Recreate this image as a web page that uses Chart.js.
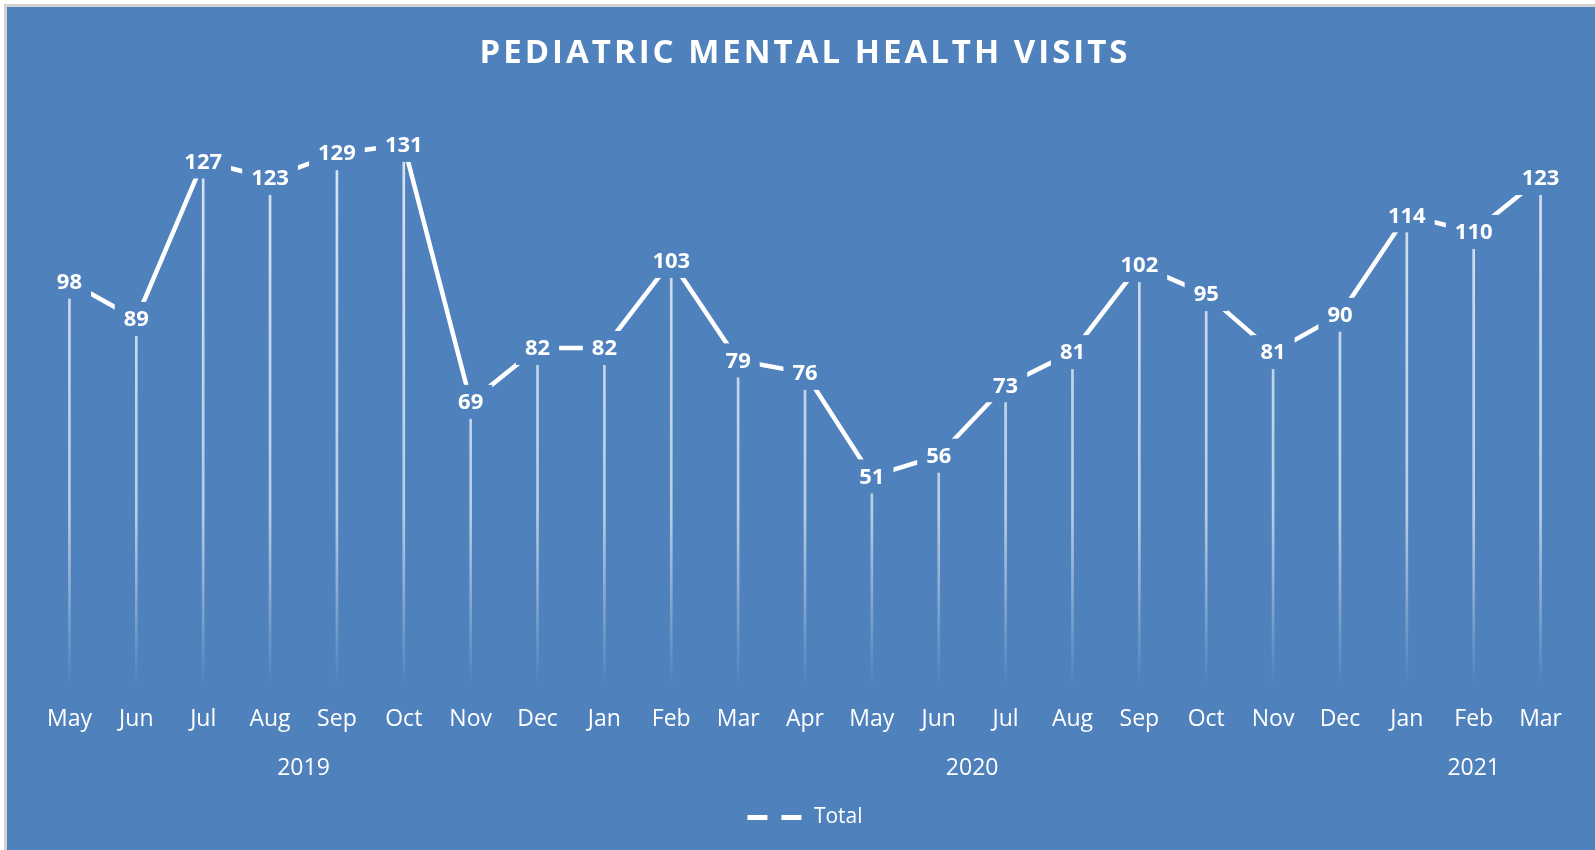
<!DOCTYPE html>
<html>
<head>
<meta charset="utf-8">
<title>Pediatric Mental Health Visits</title>
<script src="https://cdn.jsdelivr.net/npm/chart.js@4.4.1/dist/chart.umd.min.js"></script>
<style>
  html, body { margin: 0; padding: 0; background: #fff; }
  #visitsChart { display: block; }
</style>
</head>
<body>
<canvas id="visitsChart" width="1595" height="850"></canvas>
<script>
const months = ['May', 'Jun', 'Jul', 'Aug', 'Sep', 'Oct', 'Nov', 'Dec', 'Jan', 'Feb', 'Mar', 'Apr',
    'May', 'Jun', 'Jul', 'Aug', 'Sep', 'Oct', 'Nov', 'Dec', 'Jan', 'Feb', 'Mar'];
const visits = [98, 89, 127, 123, 129, 131, 69, 82, 82, 103, 79, 76,
    51, 56, 73, 81, 102, 95, 81, 90, 114, 110, 123];
const years = ['2019', '2020', '2021'];
const yearFirstMonth = [0, 8, 20];
const yearLastMonth = [7, 19, 22];

const chartBlue = '#4F81BD';
const yearCenters = years.map((y, i) => (yearFirstMonth[i] + yearLastMonth[i]) / 2);

Chart.defaults.font.family = '"Open Sans", sans-serif';
Chart.defaults.color = '#ffffff';

// background + the thin grey frame at top/left
const frame = {
    id: 'frame',
    beforeDraw(chart) {
        const ctx = chart.ctx;
        ctx.save();
        ctx.fillStyle = '#ffffff';
        ctx.fillRect(0, 0, chart.width, chart.height);
        ctx.fillStyle = '#d2d2d2';
        ctx.fillRect(4, 4, chart.width, chart.height);
        ctx.fillStyle = chartBlue;
        ctx.fillRect(7, 7, chart.width, chart.height);
        ctx.restore();
    }
};

// value labels sit centred on the points, masking the line behind them
const centerLabels = {
    id: 'centerLabels',
    afterDatasetsDraw(chart) {
        const ctx = chart.ctx;
        const meta = chart.getDatasetMeta(1);
        const data = chart.data.datasets[1].data;
        ctx.save();
        ctx.font = 'bold 22px "Open Sans"';
        ctx.textAlign = 'center';
        ctx.textBaseline = 'middle';
        meta.data.forEach((pt, i) => {
            const txt = String(data[i]);
            const w = ctx.measureText(txt).width;
            ctx.fillStyle = chartBlue;
            ctx.fillRect(pt.x - w / 2 - 9, pt.y - 17, w + 18, 34);
            ctx.fillStyle = '#ffffff';
            ctx.fillText(txt, pt.x, pt.y + 1);
        });
        ctx.restore();
    }
};

function dropLineColor(context) {
    const area = context.chart.chartArea;
    if (!area) return 'rgba(255,255,255,0.6)';
    const g = context.chart.ctx.createLinearGradient(0, area.top, 0, area.bottom);
    g.addColorStop(0, 'rgba(255,255,255,0.8)');
    g.addColorStop(0.7, 'rgba(255,255,255,0.6)');
    g.addColorStop(1, 'rgba(255,255,255,0)');
    return g;
}

const ctx = document.getElementById('visitsChart').getContext('2d');
const chart = new Chart(ctx, {
    type: 'line',
    data: {
        labels: months,
        datasets: [{
            type: 'bar',
            label: 'drop lines',
            data: visits,
            barThickness: 2,
            backgroundColor: dropLineColor,
            order: 1
        }, {
            type: 'line',
            label: 'Total',
            data: visits,
            borderColor: '#ffffff',
            borderWidth: 4.5,
            pointRadius: 0,
            tension: 0,
            fill: false,
            order: 0
        }]
    },
    options: {
        responsive: false,
        animation: false,
        layout: {
            padding: { left: 36, right: 21, top: 0, bottom: 12 }
        },
        plugins: {
            title: {
                display: true,
                text: 'PEDIATRIC MENTAL HEALTH VISITS',
                color: '#ffffff',
                font: { size: 33, weight: 'bold' },
                padding: { top: 34, bottom: 34 }
            },
            legend: {
                position: 'bottom',
                labels: {
                    color: '#ffffff',
                    font: { size: 21 },
                    usePointStyle: true,
                    pointStyleWidth: 56,
                    padding: 22,
                    generateLabels(chart) {
                        return Chart.defaults.plugins.legend.labels.generateLabels(chart)
                            .filter(item => item.datasetIndex === 1)
                            .map(item => Object.assign(item, {
                                pointStyle: 'line',
                                lineDash: [20, 14],
                                lineWidth: 5,
                                strokeStyle: '#ffffff'
                            }));
                    }
                }
            },
            tooltip: { enabled: false }
        },
        scales: {
            x: {
                type: 'category',
                offset: true,
                grid: { display: false, drawTicks: false },
                border: { display: false },
                ticks: {
                    color: '#ffffff',
                    font: { size: 23 },
                    padding: 18,
                    maxRotation: 0,
                    autoSkip: false
                }
            },
            x2: {
                type: 'linear',
                position: 'bottom',
                min: -0.5,
                max: months.length - 0.5,
                grid: { display: false, drawTicks: false },
                border: { display: false },
                afterBuildTicks(axis) {
                    axis.ticks = yearCenters.map(v => ({ value: v }));
                },
                ticks: {
                    color: '#ffffff',
                    font: { size: 23 },
                    padding: 3,
                    maxRotation: 0,
                    autoSkip: false,
                    callback: (value, index) => years[index]
                }
            },
            y: {
                display: false,
                min: 0,
                max: 140
            }
        }
    },
    plugins: [frame, centerLabels]
});

// spaced-out title lettering
const titleBlock = chart.titleBlock;
const drawTitle = titleBlock.draw.bind(titleBlock);
titleBlock.draw = function () {
    const c = this.ctx;
    c.save();
    c.letterSpacing = '3px';
    drawTitle();
    c.restore();
};
chart.draw();
</script>
</body>
</html>
